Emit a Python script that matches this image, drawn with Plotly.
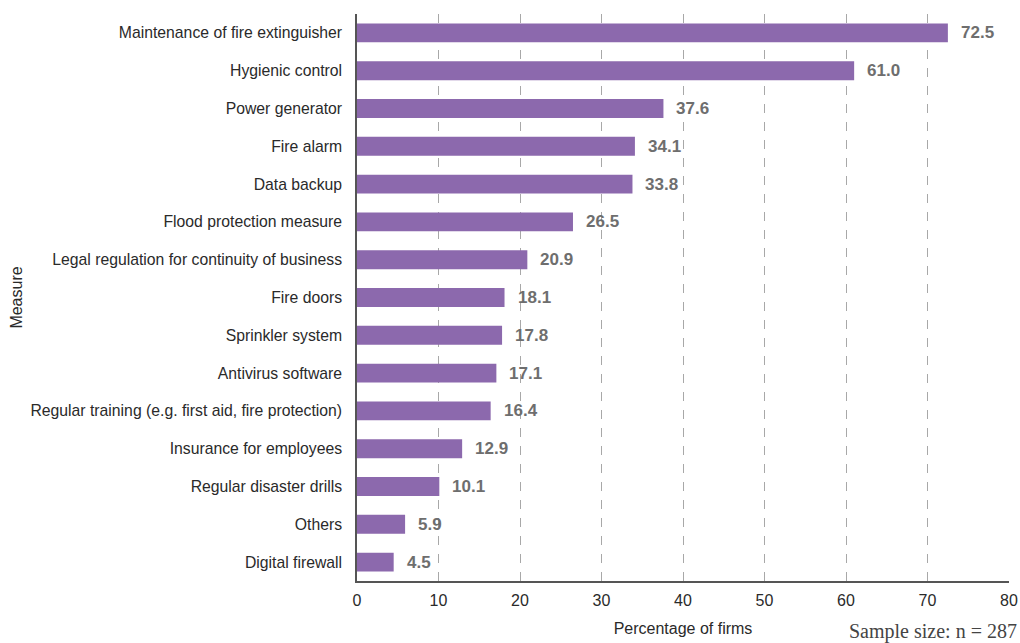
import plotly.graph_objects as go

measures = [
    "Maintenance of fire extinguisher",
    "Hygienic control",
    "Power generator",
    "Fire alarm",
    "Data backup",
    "Flood protection measure",
    "Legal regulation for continuity of business",
    "Fire doors",
    "Sprinkler system",
    "Antivirus software",
    "Regular training (e.g. first aid, fire protection)",
    "Insurance for employees",
    "Regular disaster drills",
    "Others",
    "Digital firewall",
]
shares = [72.5, 61.0, 37.6, 34.1, 33.8, 26.5, 20.9, 18.1, 17.8, 17.1, 16.4, 12.9, 10.1, 5.9, 4.5]
x_ticks = [0, 10, 20, 30, 40, 50, 60, 70, 80]

FONT = "Liberation Sans Narrow, Arial Narrow, Liberation Sans, sans-serif"
BAR = "#8c69ad"

fig = go.Figure(
    go.Bar(
        x=shares,
        y=measures,
        orientation="h",
        marker=dict(color=BAR, line=dict(width=0)),
        width=0.5,
        hoverinfo="x+y",
    )
)

# value labels just right of each bar
for m, v in zip(measures, shares):
    fig.add_annotation(
        x=v, y=m, text=f"{v:.1f}", xanchor="left", yanchor="middle",
        xshift=11, showarrow=False,
        font=dict(family=FONT, size=17, color="#6e6e6e", weight="bold"),
    )

fig.add_annotation(
    xref="paper", yref="paper", x=1.0, y=0, xanchor="right", yanchor="top",
    xshift=10, yshift=-37, text="Sample size: n = 287", showarrow=False,
    font=dict(family="Liberation Serif, Times New Roman, serif", size=20, color="#444"),
)

fig.update_layout(
    width=1020, height=643,
    margin=dict(l=357, r=11, t=14, b=62),
    paper_bgcolor="white", plot_bgcolor="white",
    font=dict(family=FONT, size=16, color="#2a2a2a"),
    showlegend=False,
    xaxis=dict(
        range=[0, 80], tickvals=x_ticks, ticks="", ticklabelstandoff=4,
        showgrid=True, gridcolor="#a8a8a8", griddash="dash", gridwidth=1,
        showline=True, linecolor="#555", linewidth=1.5,
        zeroline=False, automargin=False,
        title=dict(text="Percentage of firms", font=dict(size=16), standoff=15),
        tickfont=dict(size=16),
    ),
    yaxis=dict(
        categoryorder="array", categoryarray=measures[::-1],
        range=[-0.5, 14.5], ticks="", ticklabelstandoff=10,
        showline=True, linecolor="#555", linewidth=1.5, showgrid=False,
        automargin=False,
        title=dict(text="Measure", font=dict(size=16), standoff=4),
        tickfont=dict(size=15.75),
    ),
)

fig.write_html("out.html")
